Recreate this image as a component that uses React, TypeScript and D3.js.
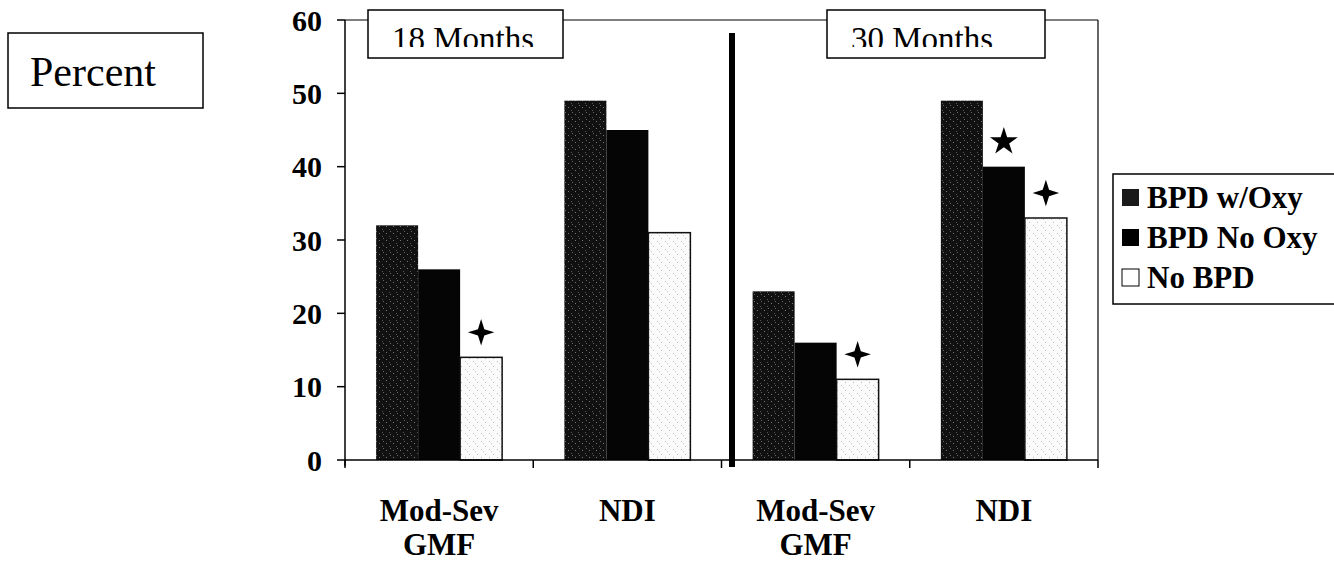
import * as d3 from "d3";

// values (percent)
const groups = ["gmf18", "ndi18", "gmf30", "ndi30"];
const groupLabels = [["Mod-Sev", "GMF"], ["NDI"], ["Mod-Sev", "GMF"], ["NDI"]];
const series = ["BPD w/Oxy", "BPD No Oxy", "No BPD"];
const bpdOxy = [32, 49, 23, 49];
const bpdNoOxy = [26, 45, 16, 40];
const noBpd = [14, 31, 11, 33];
const periods = ["18 Months", "30 Months"];
const yTicks = [0, 10, 20, 30, 40, 50, 60];
// significance marks: group index, series index, symbol
const marks = [
  { g: 0, s: 2, kind: "cross" },
  { g: 2, s: 2, kind: "cross" },
  { g: 3, s: 1, kind: "star" },
  { g: 3, s: 2, kind: "cross" },
];

const values = [bpdOxy, bpdNoOxy, noBpd];
const FONT = '"Liberation Serif", "DejaVu Serif", "Times New Roman", serif';

// 4-pointed star used for the "+" marks
const crossStar = {
  draw(ctx: any, size: number) {
    const r = Math.sqrt(size) / 2;
    const w = r * 0.24;
    ctx.moveTo(0, -r);
    ctx.lineTo(w, -w);
    ctx.lineTo(r, 0);
    ctx.lineTo(w, w);
    ctx.lineTo(0, r);
    ctx.lineTo(-w, w);
    ctx.lineTo(-r, 0);
    ctx.lineTo(-w, -w);
    ctx.closePath();
  },
};

export default function App() {
  const width = 1334, height = 561;
  const left = 345, right = 1098, top = 20, bottom = 460;

  const x = d3.scaleBand().domain(groups).range([left, right]);
  const barW = 42;
  const inner = d3.scaleBand().domain(series).range([0, barW * 3]);
  const y = d3.scaleLinear().domain([0, 60]).range([bottom, top]);

  const fills = ["url(#dark)", "#050505", "url(#light)"];
  const barX = (g: number, s: number) =>
    (x(groups[g]) as number) + (x.bandwidth() - barW * 3) / 2 + (inner(series[s]) as number);

  const legendRows = [208, 248, 288];
  const txt = { fontFamily: FONT };

  return (
    <svg width={width} height={height} style={{ position: "absolute", left: 0, top: 0, background: "#fff" }}>
      <defs>
        <pattern id="dark" width="7" height="7" patternUnits="userSpaceOnUse">
          <rect width="7" height="7" fill="#111" />
          <rect x="1" y="2" width="1" height="1" fill="#777" />
          <rect x="4" y="5" width="1" height="1" fill="#555" />
          <rect x="5" y="0" width="1" height="1" fill="#666" />
        </pattern>
        <pattern id="light" width="8" height="8" patternUnits="userSpaceOnUse">
          <rect width="8" height="8" fill="#fbfbfb" />
          <rect x="1" y="1" width="1" height="1" fill="#bbb" />
          <rect x="3" y="3" width="1" height="1" fill="#ccc" />
          <rect x="5" y="6" width="1" height="1" fill="#bbb" />
        </pattern>
        <clipPath id="tclip">
          <rect x="0" y="0" width={width} height="47" />
        </clipPath>
      </defs>

      {/* Percent box */}
      <rect x={8} y={33} width={195} height={75} fill="none" stroke="#000" strokeWidth={1.5} />
      <text x={30} y={86} fontSize={42} style={txt}>Percent</text>

      {/* plot frame */}
      <line x1={left} x2={right} y1={top} y2={top} stroke="#000" strokeWidth={1.2} />
      <line x1={right} x2={right} y1={top} y2={bottom} stroke="#000" strokeWidth={1.2} />

      {/* bars */}
      {values.map((vals, s) =>
        vals.map((v, g) => (
          <rect key={`${s}-${g}`} x={barX(g, s)} y={y(v)} width={inner.bandwidth()} height={bottom - y(v)}
            fill={fills[s]} stroke={s === 2 ? "#111" : "none"} strokeWidth={1.5} />
        ))
      )}

      {/* significance marks */}
      {marks.map((m, i) => {
        const cx = barX(m.g, m.s) + inner.bandwidth() / 2;
        const cy = y(values[m.s][m.g]) - 25;
        const sym = m.kind === "star"
          ? d3.symbol(d3.symbolStar, 240)()
          : d3.symbol(crossStar as any, 700)();
        return <path key={i} d={sym as string} transform={`translate(${cx},${cy})`} fill="#000" />;
      })}

      {/* y axis */}
      <line x1={left} x2={left} y1={top} y2={bottom + 6} stroke="#000" strokeWidth={1.5} />
      {yTicks.map(t => (
        <g key={t}>
          <line x1={left - 8} x2={left} y1={y(t)} y2={y(t)} stroke="#000" strokeWidth={1.5} />
          <text x={322} y={y(t)} dy="0.35em" textAnchor="end" fontSize={30} fontWeight="bold" style={txt}>{t}</text>
        </g>
      ))}

      {/* x axis */}
      <line x1={left} x2={right} y1={bottom} y2={bottom} stroke="#000" strokeWidth={1.5} />
      {[...groups.map(g => x(g) as number), right].map((tx, i) => (
        <line key={i} x1={tx} x2={tx} y1={bottom} y2={bottom + 8} stroke="#000" strokeWidth={1.5} />
      ))}
      {groups.map((g, i) => (
        <text key={g} x={(x(g) as number) + x.bandwidth() / 2} textAnchor="middle" fontSize={31} fontWeight="bold" style={txt}>
          {groupLabels[i].map((l, j) => (
            <tspan key={j} x={(x(g) as number) + x.bandwidth() / 2} y={521 + j * 34}>{l}</tspan>
          ))}
        </text>
      ))}

      {/* divider between periods */}
      <rect x={729} y={33} width={6} height={434} fill="#000" />

      {/* period boxes */}
      {periods.map((p, i) => {
        const bx = i === 0 ? 368 : 827;
        const bw = i === 0 ? 195 : 218;
        return (
          <g key={p}>
            <rect x={bx} y={10} width={bw} height={48} fill="#fff" stroke="#000" strokeWidth={1.5} />
            <text x={bx + 24} y={50} fontSize={33} clipPath="url(#tclip)" style={txt}>{p}</text>
          </g>
        );
      })}

      {/* legend */}
      <rect x={1113} y={174} width={225} height={130} fill="#fff" stroke="#000" strokeWidth={1.5} />
      {series.map((s, i) => (
        <g key={s}>
          <rect x={1122} y={legendRows[i] - 19} width={17} height={17}
            fill={i === 0 ? "#1a1a1a" : i === 1 ? "#000" : "#fff"} stroke="#000" strokeWidth={i === 2 ? 1 : 0} />
          <text x={1147} y={legendRows[i]} fontSize={31} fontWeight="bold" style={txt}>{s}</text>
        </g>
      ))}
    </svg>
  );
}
